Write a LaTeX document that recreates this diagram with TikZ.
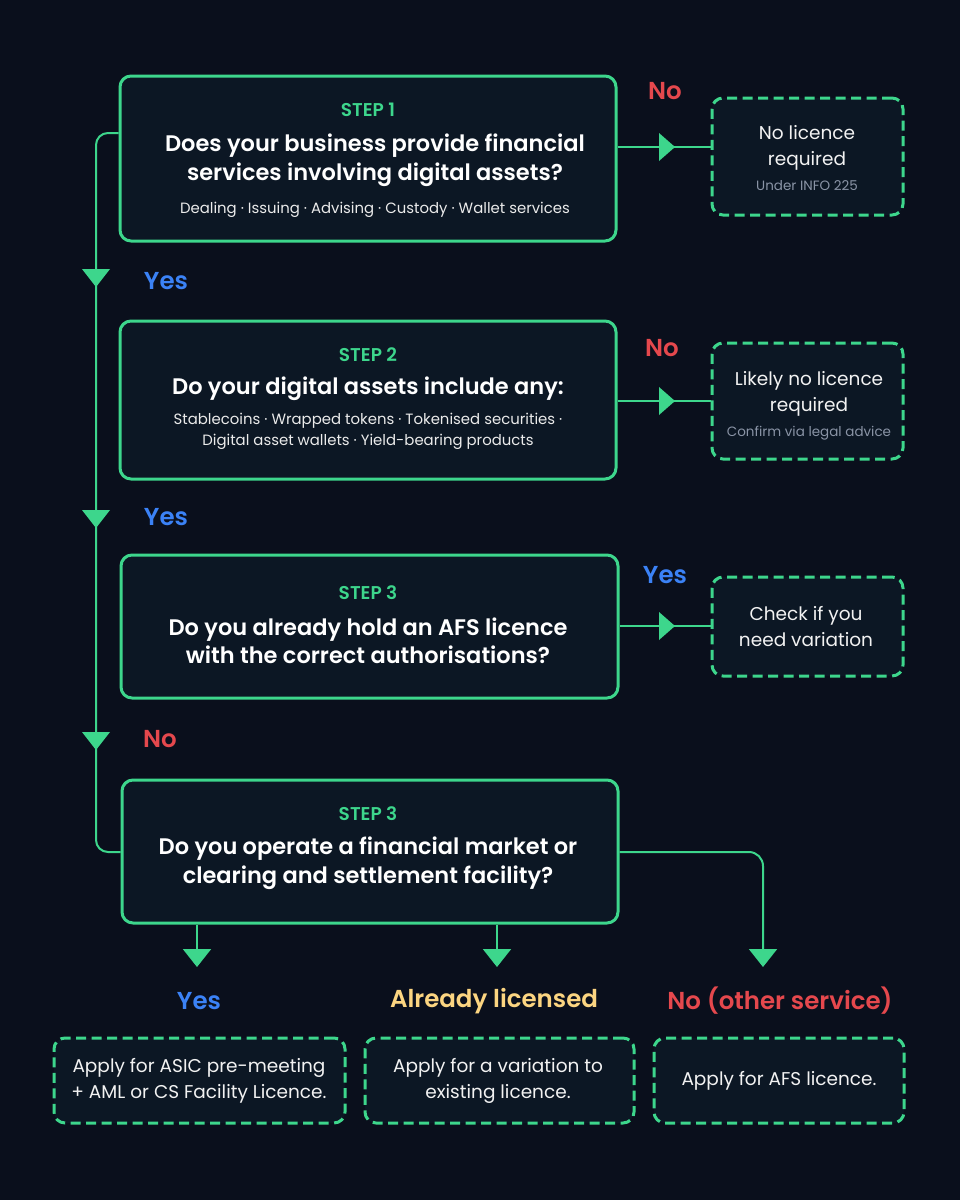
\documentclass[tikz,border=0pt]{standalone}
\usepackage{fontspec}
\setmainfont{Poppins}[BoldFont={Poppins SemiBold}]
\usetikzlibrary{arrows.meta}
\definecolor{bg}{HTML}{0A0F1C}
\definecolor{boxfill}{HTML}{0C1724}
\definecolor{grn}{HTML}{3DD68C}
\definecolor{yesblue}{HTML}{3B82F6}
\definecolor{nored}{HTML}{E5484D}
\definecolor{ylw}{HTML}{FCD581}
\definecolor{gry}{HTML}{8A94A6}
\tikzset{
  qbox/.style={draw=grn, line width=3pt, fill=boxfill, rounded corners=11pt, inner sep=0pt},
  rbox/.style={draw=grn, line width=3pt, fill=boxfill, rounded corners=11pt, inner sep=0pt, dash pattern=on 10pt off 5.5pt},
  conn/.style={draw=grn, line width=2pt},
  downarr/.style={conn, -{Triangle[width=28pt,length=18pt]}},
  steplbl/.style={text=grn, font=\fontsize{18.5}{20}\selectfont\bfseries},
  qtext/.style={text=white, font=\fontsize{22.5}{28.5}\selectfont\bfseries, align=center},
  stext/.style={text=white!92!black, font=\fontsize{14.9}{21}\selectfont, align=center},
  rtext/.style={text=white!95!black, font=\fontsize{18.5}{26}\selectfont, align=center},
  gtext/.style={text=gry, font=\fontsize{13.5}{16}\selectfont},
  lbl/.style={font=\fontsize{24.5}{28}\selectfont\bfseries},
}
\begin{document}
\begin{tikzpicture}[x=1pt,y=-1pt]
\fill[bg] (0,0) rectangle (960,1200);
\useasboundingbox (0,0) rectangle (960,1200);

\node[qbox, minimum width=496pt, minimum height=165pt] (b1) at (368,158.5) {};
\node[qbox, minimum width=496pt, minimum height=158pt] (b2) at (368,400) {};
\node[qbox, minimum width=497pt, minimum height=143pt] (b3) at (369.5,626.5) {};
\node[qbox, minimum width=496pt, minimum height=143pt] (b4) at (370,851.5) {};

\node[rbox, minimum width=191pt, minimum height=117pt] (r1) at (807.5,156.5) {};
\node[rbox, minimum width=191pt, minimum height=116pt] (r2) at (807.5,401) {};
\node[rbox, minimum width=191pt, minimum height=99pt] (r3) at (807.5,626.5) {};

\node[rbox, minimum width=291pt, minimum height=85pt] (o1) at (199.5,1080.5) {};
\node[rbox, minimum width=269pt, minimum height=85pt] (o2) at (499.5,1080.5) {};
\node[rbox, minimum width=250pt, minimum height=85pt] (o3) at (779,1080.5) {};

% connectors
\draw[conn, rounded corners=12pt] (b1.west |- {(0,133)}) -- (96,133) -- (96,852) -- (b4.west |- {(0,852)});
\foreach \yy in {278,519,741}
  \fill[grn] (82,\yy-9) -- (110,\yy-9) -- (96,\yy+9) -- cycle;

\draw[conn] (b1.east |- {(0,147)}) -- (r1.west |- {(0,147)});
\draw[conn] (b2.east |- {(0,401)}) -- (r2.west |- {(0,401)});
\draw[conn] (b3.east |- {(0,626)}) -- (r3.west |- {(0,626)});
\foreach \yy in {147,401,626}
  \fill[grn] (659,\yy-14) -- (659,\yy+14) -- (675,\yy) -- cycle;

\draw[downarr] (b4.south -| {(197,0)}) -- (197,967);
\draw[downarr] (b4.south -| {(497,0)}) -- (497,967);
\draw[downarr, rounded corners=14pt] (b4.east |- {(0,852)}) -- (763,852) -- (763,967);

% box texts
\node[steplbl] (s1) at (368,110) {STEP 1};
\node[qtext] (q1) at (375,160) {Does your business provide financial\\services involving digital assets?};
\node[stext] (t1) at (375,210) {Dealing · Issuing · Advising · Custody · Wallet services};

\node[steplbl] (s2) at (368,355) {STEP 2};
\node[qtext] (q2) at (368,389) {Do your digital assets include any:};
\node[stext] (t2) at (368,431) {Stablecoins · Wrapped tokens · Tokenised securities ·\\Digital asset wallets · Yield-bearing products};

\node[steplbl] (s3) at (368,593) {STEP 3};
\node[qtext] (q3) at (368,641) {Do you already hold an AFS licence\\with the correct authorisations?};

\node[steplbl] (s4) at (368,814) {STEP 3};
\node[qtext] (q4) at (368,863) {Do you operate a financial market or\\clearing and settlement facility?};

\node[rtext] (rt1) at (807,148) {No licence\\required};
\node[gtext] (rg1) at (807,186) {Under INFO 225};
\node[rtext] (rt2) at (809,394) {Likely no licence\\required};
\node[gtext] (rg2) at (809,433) {Confirm via legal advice};
\node[rtext] (rt3) at (806,627) {Check if you\\need variation};

\node[rtext] (ot1) at (199,1081) {Apply for ASIC pre-meeting\\+ AML or CS Facility Licence.};
\node[rtext] (ot2) at (498,1081) {Apply for a variation to\\existing licence.};
\node[rtext] (ot3) at (779,1081) {Apply for AFS licence.};

% labels
\node[lbl, text=nored] (l1) at (665,91) {No};
\node[lbl, text=nored] (l2) at (662,348) {No};
\node[lbl, text=yesblue] (l3) at (665,575) {Yes};
\node[lbl, text=yesblue] (l4) at (166,281) {Yes};
\node[lbl, text=yesblue] (l5) at (166,517) {Yes};
\node[lbl, text=nored] (l6) at (160,739) {No};
\node[lbl, text=yesblue] (l7) at (199,1001) {Yes};
\node[lbl, text=ylw] (l8) at (494,1001) {Already licensed};
\node[lbl, text=nored] (l9) at (780,1001) {No (other service)};
\end{tikzpicture}
\end{document}
